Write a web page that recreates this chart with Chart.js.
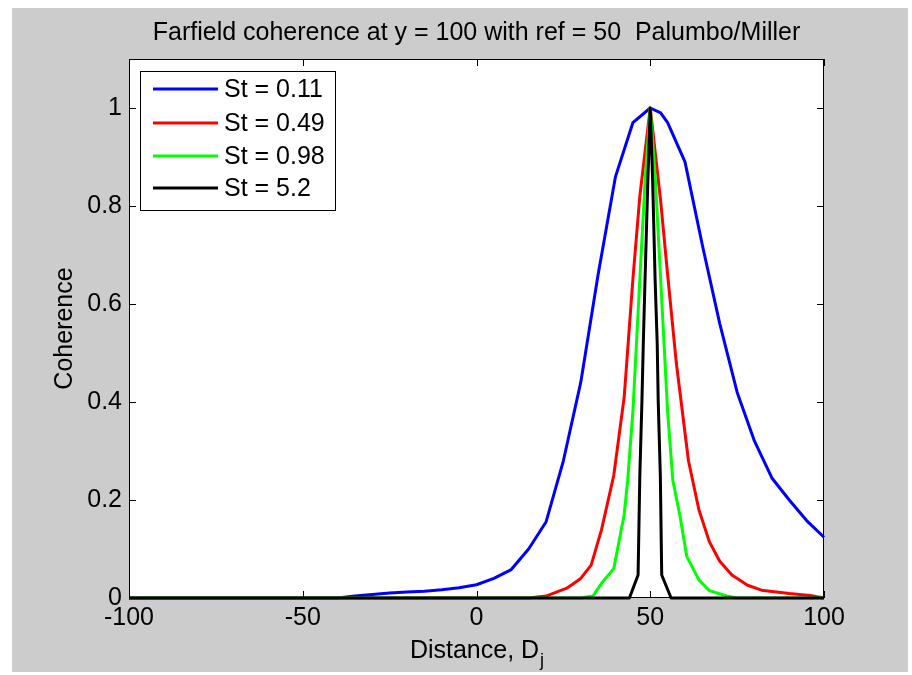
<!DOCTYPE html>
<html><head><meta charset="utf-8">
<script src="https://cdn.jsdelivr.net/npm/chart.js@4.4.1/dist/chart.umd.min.js"></script>
<style>html,body{margin:0;padding:0;background:#fff}canvas{display:block}</style>
</head><body><canvas id="c" width="912" height="675"></canvas>
<script>
const titleText = 'Farfield coherence at y = 100 with ref = 50  Palumbo/Miller';
const xLabelMain = 'Distance, D';
const xLabelSub = 'j';
const yLabel = 'Coherence';
const seriesLabels = ['St = 0.11', 'St = 0.49', 'St = 0.98', 'St = 5.2'];
const seriesColors = ['#0000ff', '#ff0000', '#00ff00', '#000000'];
const xTicks = [-100, -50, 0, 50, 100];
const yTicks = [0, 0.2, 0.4, 0.6, 0.8, 1];

const st011X = [-100, -40, -35, -30, -25, -20, -15, -10, -5, 0, 5, 10, 15, 20, 25, 30, 35, 40, 45, 50, 53, 55, 60, 65, 70, 75, 80, 85, 90, 95, 100];
const st011Y = [0, 0, 0.004, 0.007, 0.01, 0.012, 0.014, 0.017, 0.021, 0.027, 0.04, 0.058, 0.1, 0.155, 0.28, 0.44, 0.66, 0.86, 0.97, 1.0, 0.99, 0.97, 0.89, 0.72, 0.56, 0.42, 0.32, 0.245, 0.2, 0.158, 0.124];

const st049X = [-100, 15, 20, 26, 30, 33, 36, 39.5, 42.5, 45, 47, 50, 53, 55, 57.5, 61, 64, 67, 70, 73.5, 78, 82, 90, 96, 100];
const st049Y = [0, 0, 0.004, 0.02, 0.04, 0.067, 0.14, 0.25, 0.41, 0.65, 0.82, 1.0, 0.81, 0.66, 0.48, 0.28, 0.18, 0.115, 0.075, 0.047, 0.026, 0.016, 0.009, 0.005, 0];

const st098X = [-100, 30, 33.5, 36, 39.5, 42.5, 43.5, 45, 47, 48.5, 50, 51.5, 53, 55, 56.5, 58.5, 60.5, 64, 67, 72, 75, 100];
const st098Y = [0, 0, 0.004, 0.03, 0.06, 0.17, 0.24, 0.38, 0.65, 0.85, 1.0, 0.85, 0.65, 0.38, 0.24, 0.17, 0.085, 0.037, 0.015, 0.004, 0, 0];

const st52X = [-100, 44, 46.5, 47, 47.6, 48, 48.5, 49.3, 50, 50.7, 51.4, 52, 52.3, 52.9, 53.3, 56, 100];
const st52Y = [0, 0, 0.047, 0.25, 0.4, 0.52, 0.65, 0.85, 1.0, 0.85, 0.65, 0.52, 0.4, 0.25, 0.047, 0, 0];

const seriesX = [st011X, st049X, st098X, st52X];
const seriesY = [st011Y, st049Y, st098Y, st52Y];

const FONT = '"Liberation Sans", Arial, sans-serif';

const datasets = seriesLabels.map((lab, i) => ({
  label: lab,
  data: seriesX[i].map((x, k) => ({x: x, y: seriesY[i][k]})),
  borderColor: seriesColors[i],
  backgroundColor: seriesColors[i],
  borderWidth: 3,
  borderJoinStyle: 'round',
  showLine: true,
  pointRadius: 0,
  tension: 0,
  fill: false,
  clip: 5,
  order: seriesLabels.length - i
}));

const matlabPlugin = {
  id: 'matlab',
  beforeDraw(chart) {
    const ctx = chart.ctx;
    const a = chart.chartArea;
    ctx.save();
    ctx.fillStyle = '#ffffff';
    ctx.fillRect(0, 0, chart.width, chart.height);
    ctx.fillStyle = '#cccccc';
    ctx.fillRect(12, 8, 896, 664);
    ctx.fillStyle = '#ffffff';
    ctx.fillRect(a.left, a.top, a.right - a.left, a.bottom - a.top);
    ctx.restore();
  },
  afterDraw(chart) {
    const ctx = chart.ctx;
    const a = chart.chartArea;
    const xs = chart.scales.x, ys = chart.scales.y;
    ctx.save();
    ctx.strokeStyle = '#000';
    ctx.lineWidth = 1;
    ctx.strokeRect(a.left + 0.5, a.top + 0.5, a.right - a.left - 1, a.bottom - a.top - 1);
    const tl = 7;
    ctx.beginPath();
    xTicks.forEach(v => {
      const px = Math.round(xs.getPixelForValue(v)) + 0.5;
      ctx.moveTo(px, a.bottom); ctx.lineTo(px, a.bottom - tl);
      ctx.moveTo(px, a.top); ctx.lineTo(px, a.top + tl);
    });
    yTicks.forEach(v => {
      const py = Math.round(ys.getPixelForValue(v)) + 0.5;
      ctx.moveTo(a.left, py); ctx.lineTo(a.left + tl, py);
      ctx.moveTo(a.right, py); ctx.lineTo(a.right - tl, py);
    });
    ctx.stroke();
    ctx.fillStyle = '#000';
    ctx.font = '25px ' + FONT;
    ctx.textAlign = 'center';
    ctx.textBaseline = 'middle';
    ctx.fillText(titleText, (a.left + a.right) / 2, 33);
    ctx.save();
    ctx.translate(65, (a.top + a.bottom) / 2);
    ctx.rotate(-Math.PI / 2);
    ctx.font = '25px ' + FONT;
    ctx.fillText(yLabel, 0, 0);
    ctx.restore();
    ctx.font = '25px ' + FONT;
    const w1 = ctx.measureText(xLabelMain).width;
    ctx.font = '18px ' + FONT;
    const w2 = ctx.measureText(xLabelSub).width;
    const cx = (a.left + a.right) / 2;
    const startX = cx - (w1 + w2) / 2;
    ctx.textAlign = 'left';
    ctx.font = '25px ' + FONT;
    ctx.fillText(xLabelMain, startX, 651);
    ctx.font = '18px ' + FONT;
    ctx.fillText(xLabelSub, startX + w1 + 1, 661);
    const lx = 140, ly = 71, lw = 195, lh = 139;
    ctx.fillStyle = '#fff';
    ctx.fillRect(lx, ly, lw, lh);
    ctx.strokeStyle = '#000';
    ctx.lineWidth = 1;
    ctx.strokeRect(lx + 0.5, ly + 0.5, lw, lh);
    const rowY = [89, 123, 156, 188];
    ctx.font = '25px ' + FONT;
    ctx.textAlign = 'left';
    ctx.textBaseline = 'middle';
    seriesLabels.forEach((lab, i) => {
      ctx.strokeStyle = seriesColors[i];
      ctx.lineWidth = 3;
      ctx.beginPath();
      ctx.moveTo(153, rowY[i]); ctx.lineTo(218, rowY[i]);
      ctx.stroke();
      ctx.fillStyle = '#000';
      ctx.fillText(lab, 224, rowY[i] + 1);
    });
    ctx.restore();
  }
};

new Chart(document.getElementById('c'), {
  type: 'scatter',
  data: { datasets: datasets },
  options: {
    responsive: false,
    animation: false,
    devicePixelRatio: 1,
    layout: { padding: { left: 0, top: 59, right: 88, bottom: 0 } },
    plugins: { legend: { display: false }, title: { display: false }, tooltip: { enabled: false } },
    scales: {
      x: {
        type: 'linear', min: -100, max: 100,
        afterBuildTicks: s => { s.ticks = xTicks.map(v => ({value: v})); },
        afterFit: s => { s.height = 77; },
        grid: { display: false, drawTicks: false },
        border: { display: false },
        ticks: { color: '#000', font: { family: FONT, size: 25 }, padding: 5, maxRotation: 0, autoSkip: false,
          callback: v => String(v) }
      },
      y: {
        type: 'linear', min: 0, max: 1.1,
        afterBuildTicks: s => { s.ticks = yTicks.map(v => ({value: v})); },
        afterFit: s => { s.width = 129; },
        grid: { display: false, drawTicks: false },
        border: { display: false },
        ticks: { color: '#000', font: { family: FONT, size: 25 }, padding: 7, autoSkip: false,
          callback: v => String(Math.round(v * 10) / 10) }
      }
    }
  },
  plugins: [matlabPlugin]
});
</script>
</body></html>
